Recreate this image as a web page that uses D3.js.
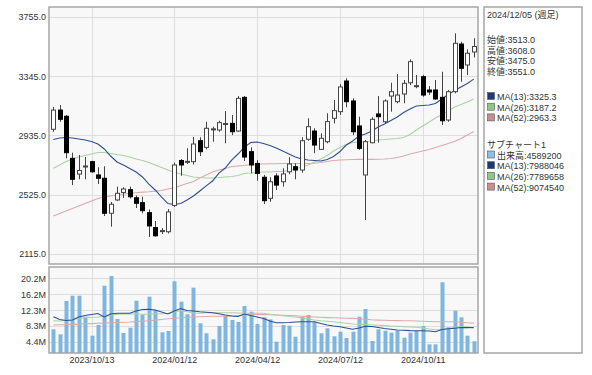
<!DOCTYPE html>
<html><head><meta charset="utf-8">
<script src="https://cdn.jsdelivr.net/npm/d3@7"></script>
<style>
body{margin:0;background:#fff}
svg{display:block}
text{font-family:"Liberation Sans","Noto Sans CJK JP",sans-serif;fill:#333}
</style>
</head><body>
<svg id="chart" width="592" height="375"></svg>
<script>
// ---------- DATA ----------
const firstWeek = "2023/09/01";
const weekCount = 67;
const xTickLabels = ["2023/10/13","2024/01/12","2024/04/12","2024/07/12","2024/10/11"];

const open = [2978,3111,3068,2777,2668,2718,2754,2662,2639,2397,
 2489,2541,2560,2504,2470,2401,2298,2272,2269,2451,
 2762,2750,2754,2899,2853,2975,2973,3013,3019,2966,
 3199,2823,2742,2646,2500,2655,2615,2684,2719,2696,
 2909,2966,2839,2892,3054,3100,3312,3174,3001,2662,
 2885,3084,3030,3208,3169,3222,3300,3275,3342,3250,
 3250,3199,3042,3238,3568,3423,3513];
const high = [3132,3146,3077,2816,2800,2786,2760,2715,2722,2475,
 2581,2577,2581,2520,2511,2423,2343,2295,2426,2748,
 2772,2847,2925,2923,3030,2996,3037,3104,3077,3208,
 3208,2853,2765,2662,2646,2673,2708,2784,2743,2923,
 3054,2985,2950,3089,3181,3291,3331,3192,3065,2904,
 3061,3208,3185,3300,3360,3319,3462,3354,3354,3277,
 3319,3376,3250,3642,3584,3531,3608];
const low = [2961,3030,2777,2592,2632,2632,2677,2599,2378,2304,
 2482,2502,2499,2433,2397,2233,2235,2253,2257,2440,
 2656,2738,2734,2793,2839,2892,2961,2881,2938,2961,
 2758,2673,2622,2461,2477,2558,2581,2668,2632,2677,
 2899,2812,2835,2881,3019,3077,3130,2938,2835,2350,
 2881,2885,3019,3100,3158,3158,3284,3262,3203,3215,
 3181,3008,3030,3227,3307,3354,3475];
const close = [3111,3047,2816,2632,2693,2724,2684,2639,2397,2459,
 2535,2565,2511,2466,2415,2309,2241,2277,2406,2731,
 2731,2756,2876,2823,2985,2981,3024,3018,2961,3192,
 2786,2731,2673,2484,2615,2592,2669,2738,2696,2899,
 2996,2869,2916,3031,3107,3271,3169,2961,2846,2892,
 3047,3065,3174,3238,3215,3296,3446,3280,3215,3236,
 3188,3037,3238,3573,3400,3504,3551];

const ma13 = [2907,2918,2921,2918,2911,2904,2893,2876,2842,2793,
 2752,2731,2707,2682,2648,2599,2558,2509,2464,2458,
 2464,2489,2516,2551,2586,2620,2675,2710,2765,2807,
 2855,2887,2890,2880,2866,2848,2828,2807,2786,2772,
 2765,2762,2759,2769,2790,2824,2869,2897,2932,2945,
 2966,2994,3015,3039,3063,3094,3118,3139,3143,3146,
 3156,3188,3219,3246,3271,3295,3325.3];
const ma26 = [2708,2731,2755,2772,2786,2797,2807,2817,2817,2810,
 2803,2797,2786,2772,2762,2748,2731,2713,2696,2679,
 2669,2658,2648,2644,2641,2641,2644,2648,2651,2658,
 2672,2675,2679,2682,2682,2686,2686,2693,2703,2717,
 2731,2752,2772,2797,2828,2852,2873,2887,2890,2892,
 2897,2904,2907,2911,2914,2921,2942,2973,3001,3028,
 3056,3080,3105,3132,3150,3167,3187.2];
const ma52 = [2378,2395,2412,2430,2447,2464,2482,2499,2509,2516,
 2523,2530,2535,2539,2543,2546,2550,2554,2565,2572,
 2589,2603,2617,2641,2662,2682,2696,2707,2720,2724,
 2727,2734,2738,2738,2739,2740,2741,2741,2741,2741,
 2741,2743,2748,2755,2762,2765,2767,2769,2770,2770,
 2770,2771,2772,2776,2783,2793,2807,2817,2828,2838,
 2852,2866,2880,2893,2914,2938,2963.3];

// volume in millions
const volume = [7.55,6.3,14.57,15.88,15.88,10.67,5.96,8.62,18.36,20.77,
 10.1,6.63,7.95,14.64,11.17,15.64,12.34,6.8,7.13,19.45,
 14.4,11.27,17.87,9.04,6.56,5.07,8.37,10.85,9.86,9.36,
 13.33,11.92,8.86,10.52,10.0,4.47,8.62,8.44,5.71,10.67,
 11.1,9.36,6.56,7.8,5.81,6.95,5.39,6.95,10.67,12.58,
 4.65,7.55,7.2,6.71,7.2,5.47,6.71,7.13,8.37,3.83,
 3.83,19.21,8.05,12.16,10.52,5.96,4.5892];
const volMa13 = [10.67,9.98,9.73,9.86,10.6,10.97,11.22,11.47,10.6,11.34,
 11.52,11.52,11.52,12.09,12.46,12.51,12.34,11.84,11.34,12.09,
 12.71,12.21,12.09,11.91,11.79,11.67,11.39,11.1,10.85,10.72,
 11.34,10.97,10.6,10.23,9.61,9.19,9.19,9.24,9.36,9.43,
 9.43,9.43,8.99,8.62,8.37,8.19,7.87,7.55,7.87,8.29,
 8.24,8.0,7.75,7.55,7.38,7.3,7.23,7.2,7.2,7.13,
 6.95,7.5,7.67,7.82,8.0,7.97,7.988];
const volMa26 = [9.68,9.61,9.73,9.98,10.23,10.48,10.53,10.6,10.72,10.97,
 11.29,11.34,11.34,11.34,11.29,11.27,11.34,11.42,11.52,11.84,
 12.16,11.89,11.59,11.52,11.64,11.67,11.67,11.67,11.64,11.59,
 11.52,11.52,11.52,11.52,11.27,11.1,10.9,10.72,10.6,10.35,
 10.1,9.86,9.66,9.53,9.43,9.24,9.06,8.86,8.79,8.72,
 8.62,8.54,8.47,8.37,8.32,8.22,8.12,8.05,7.87,7.62,
 7.43,7.5,7.75,8.0,8.12,8.17,7.79];
const volMa52 = [8.62,8.67,8.72,8.77,8.84,8.91,8.96,9.04,9.09,9.16,
 9.24,9.31,9.36,9.46,9.58,9.68,9.83,9.98,10.15,10.27,
 10.4,10.53,10.6,10.67,10.72,10.77,10.8,10.82,10.85,10.97,
 11.1,11.2,11.22,11.2,11.15,11.1,11.05,10.97,10.9,10.8,
 10.7,10.6,10.53,10.45,10.4,10.35,10.3,10.27,10.18,10.05,
 9.91,9.83,9.78,9.73,9.71,9.68,9.66,9.61,9.56,9.48,
 9.43,9.43,9.43,9.41,9.31,9.16,9.075];

const priceTicks = [3755,3345,2935,2525,2115];
const volTicks = [4.4,8.35,12.3,16.25,20.2];
const volTickLabels = ["4.4M","8.3M","12.3M","16.2M","20.2M"];

const legendTitle = "2024/12/05 (週足)";
const legendOHLC = ["始値:3513.0","高値:3608.0","安値:3475.0","終値:3551.0"];
const legendMain = ["MA(13):3325.3","MA(26):3187.2","MA(52):2963.3"];
const legendSubTitle = "サブチャート1";
const legendSub = ["出来高:4589200","MA(13):7988046","MA(26):7789658","MA(52):9074540"];

// ---------- STYLE ----------
const C = {ma13:"#2e4f92", ma26:"#a9d3a2", ma52:"#dcaaaa", vol:"#7fb6df",
  sw13:"#1b3a78", sw26:"#8ec887", sw52:"#c98e8e", swVol:"#8cc2e8",
  grid:"#dedede", border:"#a6a6a6", bg:"#f8f8f8"};

// ---------- LAYOUT ----------
const svg = d3.select("#chart");
const mainP = {x0:49, x1:478, y0:7, y1:264};
const volP  = {x0:49, x1:478, y0:267, y1:353};

const parse = d3.timeParse("%Y/%m/%d");
const d0 = parse(firstWeek);
const dates = d3.range(weekCount).map(i => d3.timeDay.offset(d0, 7*i));

const x = d3.scaleTime().domain([dates[0], dates[weekCount-1]]).range([53.3, 473.7]);
const y = d3.scaleLinear().domain([2045.8, 3824.2]).range([mainP.y1, mainP.y0]);
const yv = d3.scaleLinear().domain([1.67, 23.0]).range([volP.y1, volP.y0]);

const defs = svg.append("defs");
defs.append("clipPath").attr("id","clipMain").append("rect")
  .attr("x",mainP.x0).attr("y",mainP.y0).attr("width",mainP.x1-mainP.x0).attr("height",mainP.y1-mainP.y0);
defs.append("clipPath").attr("id","clipVol").append("rect")
  .attr("x",volP.x0).attr("y",volP.y0).attr("width",volP.x1-volP.x0).attr("height",volP.y1-volP.y0);

function panelBg(p){
  svg.append("rect").attr("x",p.x0).attr("y",p.y0).attr("width",p.x1-p.x0).attr("height",p.y1-p.y0)
    .attr("fill",C.bg);
}
panelBg(mainP); panelBg(volP);

const tickDates = xTickLabels.map(parse);

// grids
function grid(p, ys, sc){
  const g = svg.append("g");
  g.selectAll("line.h").data(ys).enter().append("line")
    .attr("x1",p.x0).attr("x2",p.x1)
    .attr("y1",d=>Math.round(sc(d))+0.5).attr("y2",d=>Math.round(sc(d))+0.5)
    .attr("stroke",C.grid).attr("stroke-width",1);
  g.selectAll("line.v").data(tickDates).enter().append("line")
    .attr("y1",p.y0).attr("y2",p.y1)
    .attr("x1",d=>Math.round(x(d))+0.5).attr("x2",d=>Math.round(x(d))+0.5)
    .attr("stroke",C.grid).attr("stroke-width",1);
}
grid(mainP, priceTicks, y);
grid(volP, volTicks, yv);

// y axes
const yAxis = d3.axisLeft(y).tickValues(priceTicks).tickFormat(d3.format(".1f")).tickSize(0).tickPadding(3);
svg.append("g").attr("transform",`translate(${mainP.x0},0)`).call(yAxis)
  .call(g=>g.select(".domain").remove())
  .selectAll("text").attr("font-size","9px").attr("fill","#333")
  .style("font-family",'"Liberation Sans",sans-serif');

const yvAxis = d3.axisLeft(yv).tickValues(volTicks).tickFormat((d,i)=>volTickLabels[i]).tickSize(0).tickPadding(3);
svg.append("g").attr("transform",`translate(${volP.x0},0)`).call(yvAxis)
  .call(g=>g.select(".domain").remove())
  .selectAll("text").attr("font-size","9px").attr("fill","#333")
  .style("font-family",'"Liberation Sans",sans-serif');

// x axis
const xAxis = d3.axisBottom(x).tickValues(tickDates).tickFormat(d3.timeFormat("%Y/%m/%d")).tickSize(0).tickPadding(4);
svg.append("g").attr("transform",`translate(0,${volP.y1})`).call(xAxis)
  .call(g=>g.select(".domain").remove())
  .selectAll("text").attr("font-size","9px").attr("fill","#333")
  .style("font-family",'"Liberation Sans",sans-serif');

// ---------- CANDLES ----------
const candles = dates.map((d,i)=>({d, o:open[i], h:high[i], l:low[i], c:close[i]}));
const cg = svg.append("g").attr("clip-path","url(#clipMain)");

// MA lines (behind candles? draw after to match)
const lineMain = (arr)=>d3.line().x((d,i)=>x(dates[i])).y(d=>y(d));
[[ma52,C.ma52],[ma26,C.ma26],[ma13,C.ma13]].forEach(([arr,col])=>{
  cg.append("path").datum(arr).attr("d",lineMain(arr)).attr("fill","none")
    .attr("stroke",col).attr("stroke-width",1.1);
});

const cs = cg.selectAll("g.candle").data(candles).enter().append("g");
cs.append("line")
  .attr("x1",d=>Math.round(x(d.d))+0.5).attr("x2",d=>Math.round(x(d.d))+0.5)
  .attr("y1",d=>y(d.h)).attr("y2",d=>y(d.l))
  .attr("stroke","#444").attr("stroke-width",1);
cs.append("rect")
  .attr("x",d=>Math.round(x(d.d))-1.5)
  .attr("width",4)
  .attr("y",d=>Math.min(y(d.o),y(d.c)))
  .attr("height",d=>Math.max(1,Math.abs(y(d.o)-y(d.c))))
  .attr("fill",d=>d.c>=d.o?"#fff":"#000")
  .attr("stroke",d=>d.c>=d.o?"#444":"#000")
  .attr("stroke-width",1);

// ---------- VOLUME ----------
const vg = svg.append("g").attr("clip-path","url(#clipVol)");
vg.selectAll("rect.vol").data(volume).enter().append("rect")
  .attr("x",(d,i)=>Math.round(x(dates[i]))-1.5)
  .attr("width",4)
  .attr("y",d=>yv(d))
  .attr("height",d=>volP.y1-yv(d))
  .attr("fill",C.vol);
const lineVol = d3.line().x((d,i)=>x(dates[i])).y(d=>yv(d));
[[volMa52,C.ma52],[volMa26,C.ma26],[volMa13,C.ma13]].forEach(([arr,col])=>{
  vg.append("path").datum(arr).attr("d",lineVol).attr("fill","none")
    .attr("stroke",col).attr("stroke-width",1.1);
});

// panel borders
function border(p){
  svg.append("rect").attr("x",p.x0).attr("y",p.y0).attr("width",p.x1-p.x0).attr("height",p.y1-p.y0)
    .attr("fill","none").attr("stroke",C.border).attr("stroke-width",1.5);
}
border(mainP); border(volP);

// ---------- LEGEND ----------
const lg = svg.append("g");
lg.append("rect").attr("x",484).attr("y",7).attr("width",98).attr("height",346)
  .attr("fill","#fff").attr("stroke",C.border).attr("stroke-width",1.5);
const fs = "9px";
lg.append("text").attr("x",487).attr("y",18).attr("font-size",fs).text(legendTitle);
legendOHLC.forEach((t,i)=>lg.append("text").attr("x",487).attr("y",43+i*10.7).attr("font-size",fs).text(t));
const mainSw = [C.sw13,C.sw26,C.sw52];
legendMain.forEach((t,i)=>{
  const yy = 100+i*10.7;
  lg.append("rect").attr("x",487.5).attr("y",yy-7.5).attr("width",7).attr("height",7)
    .attr("fill",mainSw[i]).attr("stroke","#555").attr("stroke-width",0.6);
  lg.append("text").attr("x",497).attr("y",yy).attr("font-size",fs).text(t);
});
lg.append("text").attr("x",487).attr("y",148).attr("font-size",fs).text(legendSubTitle);
const subSw = [C.swVol,C.sw13,C.sw26,C.sw52];
legendSub.forEach((t,i)=>{
  const yy = 158.5+i*10.7;
  lg.append("rect").attr("x",487.5).attr("y",yy-7.5).attr("width",7).attr("height",7)
    .attr("fill",subSw[i]).attr("stroke","#555").attr("stroke-width",0.6);
  lg.append("text").attr("x",497).attr("y",yy).attr("font-size",fs).text(t);
});
</script>
</body></html>
